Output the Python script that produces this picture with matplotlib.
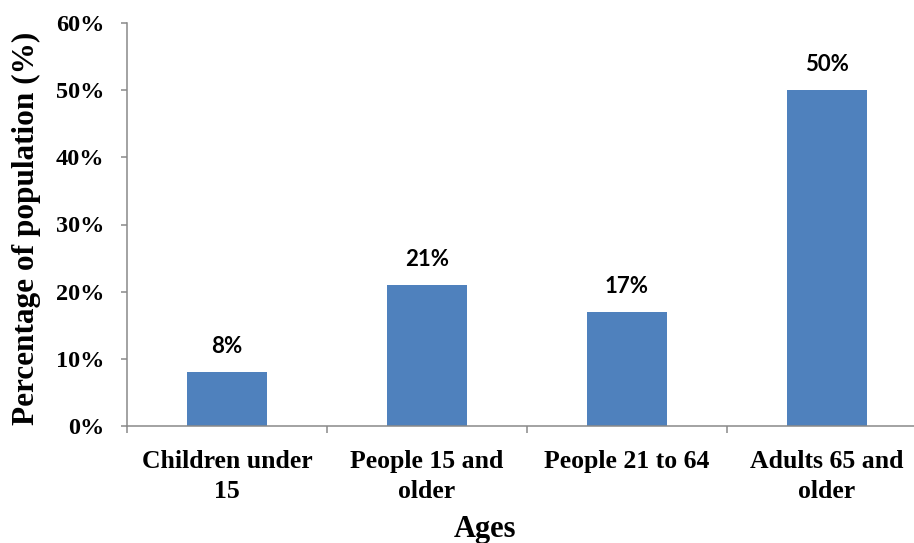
import numpy as np
import matplotlib.pyplot as plt

ages = ["Children under\n15", "People 15 and\nolder", "People 21 to 64", "Adults 65 and\nolder"]
pct = [8, 21, 17, 50]
yticks = [0, 10, 20, 30, 40, 50, 60]

serif = "Liberation Serif"
grey = "#898989"
fig = plt.figure(figsize=(9.14, 5.43), dpi=100)
ax = fig.add_axes([127/914, 117/543, 800/914, 403/543])

x = np.arange(len(ages))
ax.bar(x, pct, width=0.4, color="#4F81BD", zorder=2)

for xi, v in zip(x, pct):
    ax.annotate(f"{v}%", (xi, v), xytext=(0, 18.5), textcoords="offset points",
                ha="center", va="center", fontsize=16, fontweight="bold",
                family="Lato")

ax.set_xlim(-0.5, 3.5)
ax.set_ylim(0, 60)
ax.set_yticks(yticks)
ax.set_yticklabels([f"{t}%" for t in yticks], family=serif, fontweight="bold", fontsize=17.5)
ax.set_xticks(x)
ax.set_xticklabels(ages, family=serif, fontweight="bold", fontsize=18.5, linespacing=1.35)
ax.tick_params(axis="x", length=0, pad=17.5)
ax.set_xticks(np.arange(-0.5, 4, 1), minor=True)
ax.tick_params(axis="x", which="minor", length=5, color=grey, width=1.1)
ax.tick_params(axis="y", length=4.5, color=grey, width=1.1, pad=12)

for s in ["top", "right"]:
    ax.spines[s].set_visible(False)
for s in ["left", "bottom"]:
    ax.spines[s].set_color(grey)
    ax.spines[s].set_linewidth(1.1)

ax.set_ylabel("Percentage of population (%)", family=serif, fontweight="bold", fontsize=22.5, va="center")
ax.yaxis.set_label_coords(-0.126, 0.49)
ax.set_xlabel("Ages", family=serif, fontweight="bold", fontsize=22, va="center")
ax.xaxis.set_label_coords(0.4475, -0.258)

fig.savefig("out.png", dpi=100)
